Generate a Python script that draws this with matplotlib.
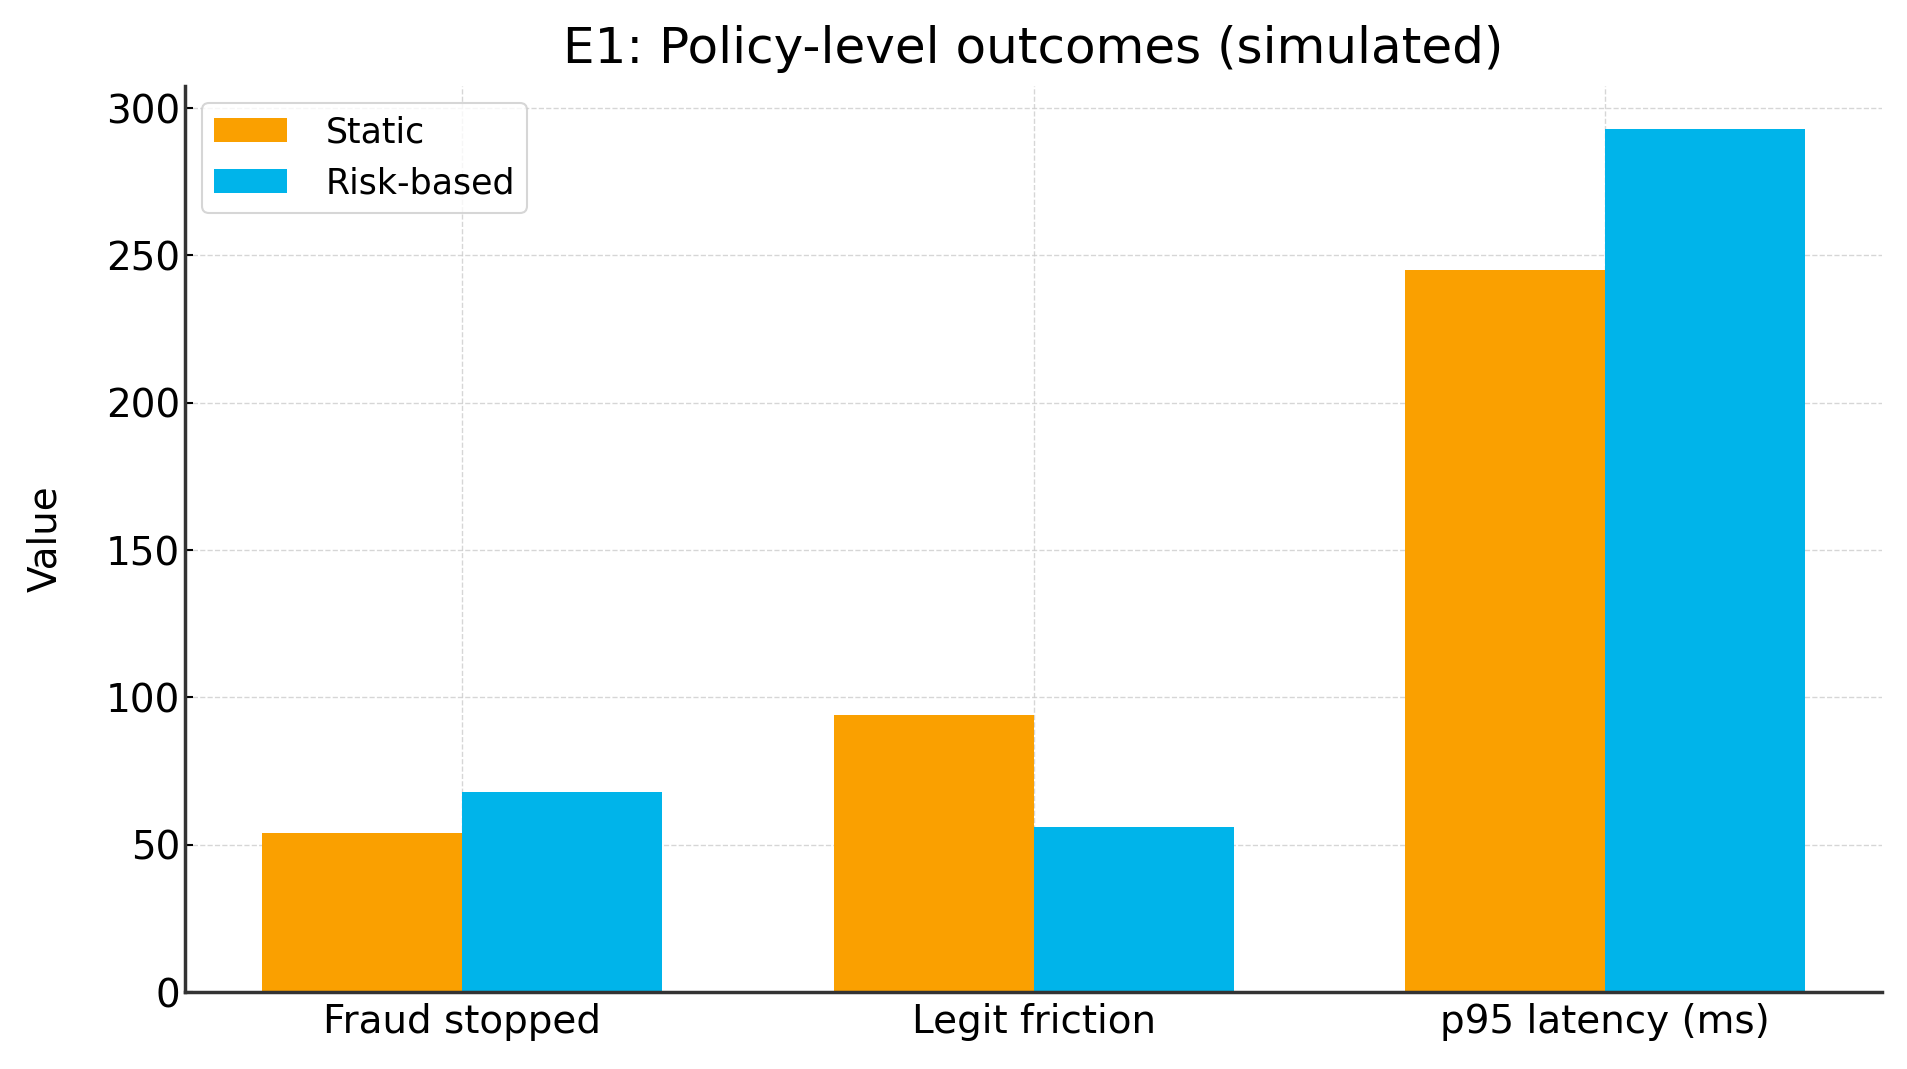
import matplotlib
matplotlib.use("Agg")
import matplotlib.pyplot as plt
import numpy as np

categories = ["Fraud stopped", "Legit friction", "p95 latency (ms)"]
static_vals = [54, 94, 245]
risk_vals = [68, 56, 293]

fig = plt.figure(figsize=(19.07, 10.69), dpi=100)
ax = fig.add_axes([0.097, 0.072, 0.89, 0.848])

x = np.arange(len(categories))
w = 0.35
ax.bar(x - w / 2, static_vals, w, color="#FAA000", label="Static")
ax.bar(x + w / 2, risk_vals, w, color="#00B4EA", label="Risk-based")

ax.set_xticks(x)
ax.set_xticklabels(categories)
ax.set_ylabel("Value", fontsize=28, labelpad=30)
ax.set_title("E1: Policy-level outcomes (simulated)", fontsize=36, pad=16)
ax.tick_params(axis="both", labelsize=28, direction="in", length=6, width=1.5)
ax.tick_params(axis="x", length=0, pad=8)

ax.grid(True, linestyle="--", color="#cccccc", linewidth=1.0, alpha=0.8)
ax.set_axisbelow(True)
for side in ("top", "right"):
    ax.spines[side].set_visible(False)
for side in ("left", "bottom"):
    ax.spines[side].set_linewidth(2.5)
    ax.spines[side].set_color("#333333")

leg = ax.legend(loc="upper left", fontsize=25, frameon=True, fancybox=True,
                handlelength=2.1, handleheight=0.7, borderpad=0.35,
                handletextpad=1.1, borderaxespad=0.5)
leg.get_frame().set_edgecolor("#cccccc")
leg.get_frame().set_linewidth(1.5)

fig.savefig("out.png", dpi=100)
